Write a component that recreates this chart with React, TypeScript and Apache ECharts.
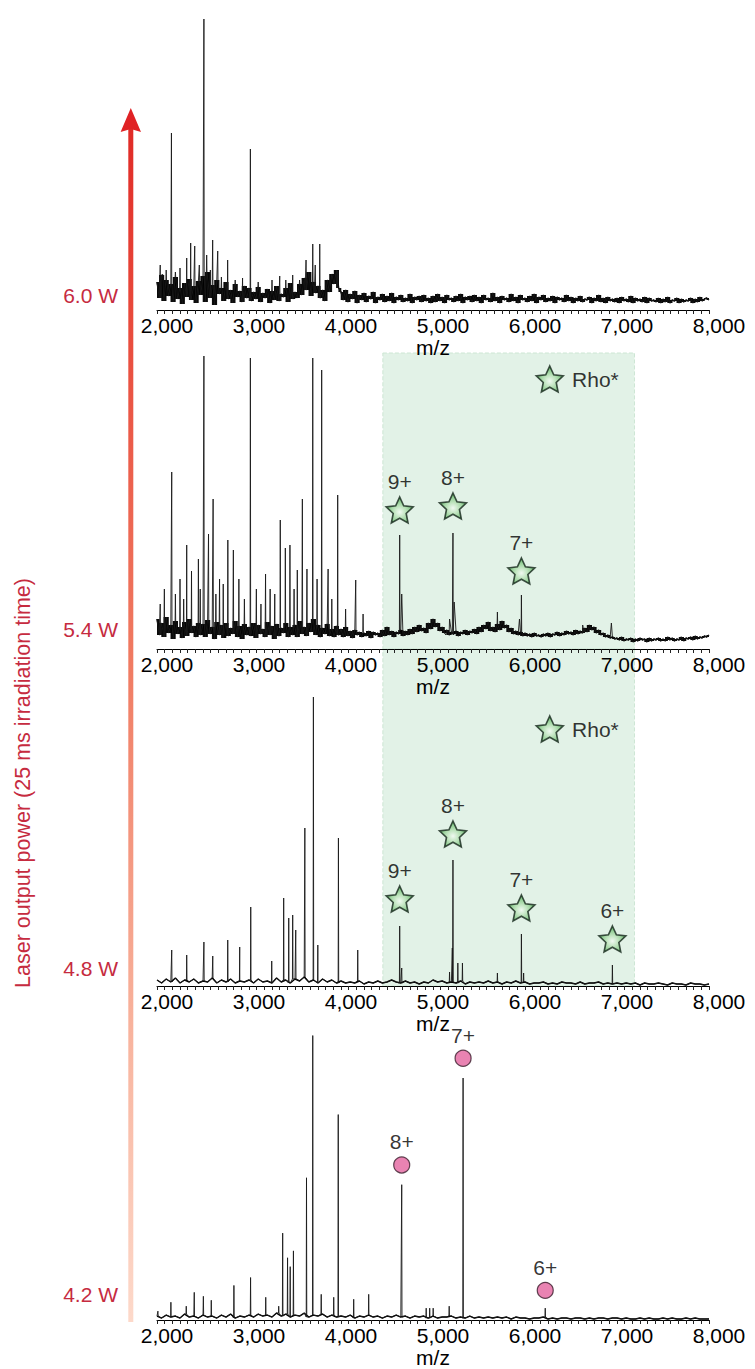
import React, { useEffect, useRef } from "react";
import * as echarts from "echarts";

// ---------- data (heights in px above each panel's axis, m/z on x) ----------
const MZ_MIN = 2000;
const MZ_MAX = 8000;
const powerLabels = ["6.0 W", "5.4 W", "4.8 W", "4.2 W"];
const axisTitle = "Laser output power (25 ms irradiation time)";
const legendText = "Rho*";

// baselines: panel 6.0 W and 5.4 W sampled every 25 m/z, 4.8 W and 4.2 W every 50 m/z
const base60 = [
  28, 12, 35, 9, 30, 14, 26, 8, 33, 11, 22, 6, 27, 13, 31, 10, 24, 7, 29, 15,
  34, 8, 38, 12, 25, 5, 30, 16, 22, 9, 28, 11, 20, 7, 26, 13, 19, 8, 24, 12,
  22, 9, 18, 11, 23, 8, 17, 12, 21, 7, 19, 10, 24, 9, 16, 13, 22, 8, 27, 11,
  18, 12, 26, 15, 32, 20, 38, 14, 28, 17, 24, 12, 20, 9, 30, 18, 36, 26, 40, 22,
  18, 10, 20, 8, 16, 11, 19, 7, 15, 10, 17, 8, 14, 11, 18, 7, 13, 10, 16, 8,
  14, 9, 17, 7, 13, 10, 15, 8, 12, 9, 16, 7, 13, 10, 14, 8, 15, 9, 12, 7,
  14, 8, 16, 9, 13, 7, 15, 10, 12, 8, 14, 9, 16, 7, 13, 10, 14, 8, 15, 9,
  13, 7, 15, 10, 12, 8, 17, 9, 13, 7, 14, 10, 12, 8, 16, 9, 13, 7, 15, 10,
  12, 8, 14, 9, 16, 7, 13, 10, 15, 8, 12, 9, 14, 7, 13, 10, 12, 8, 15, 9,
  13, 7, 12, 9, 14, 8, 11, 10, 13, 7, 12, 9, 15, 8, 12, 7, 13, 9, 11, 8,
  12, 7, 13, 9, 11, 8, 14, 7, 12, 9, 11, 8, 13, 7, 12, 9, 10, 8, 12, 7,
  11, 8, 13, 7, 10, 9, 12, 7, 11, 8, 10, 9, 12, 7, 11, 8, 13, 9, 11, 12,
  10,
];
const base54 = [
  30, 14, 26, 12, 32, 16, 24, 10, 28, 15, 22, 11, 27, 13, 30, 16, 23, 12, 26, 14,
  25, 12, 29, 15, 22, 10, 27, 14, 24, 11, 26, 13, 21, 15, 28, 12, 23, 10, 25, 14,
  22, 13, 26, 11, 24, 15, 20, 12, 27, 14, 23, 10, 25, 13, 21, 16, 26, 12, 22, 14,
  24, 12, 28, 15, 22, 13, 26, 17, 30, 14, 24, 12, 21, 15, 25, 13, 20, 12, 23, 14,
  20, 12, 22, 13, 18, 11, 19, 14, 17, 12, 16, 13, 18, 11, 17, 14, 16, 12, 19, 13,
  22, 14, 18, 12, 17, 15, 19, 13, 18, 14, 20, 15, 22, 17, 24, 18, 21, 16, 26, 20,
  30, 22, 26, 18, 22, 16, 19, 14, 17, 15, 18, 13, 17, 15, 19, 14, 18, 16, 20, 15,
  22, 17, 24, 20, 27, 18, 22, 17, 25, 19, 28, 21, 24, 17, 21, 15, 18, 14, 17, 13,
  16, 13, 15, 12, 16, 13, 14, 12, 15, 13, 16, 12, 15, 14, 17, 13, 16, 14, 18, 15,
  17, 14, 19, 15, 18, 16, 21, 17, 24, 19, 22, 16, 19, 14, 16, 12, 14, 11, 12, 10,
  11, 9, 12, 8, 10, 9, 11, 7, 10, 8, 11, 9, 10, 7, 11, 8, 10, 9, 11, 8,
  10, 8, 12, 9, 11, 8, 10, 9, 12, 8, 11, 10, 12, 9, 13, 10, 12, 11, 13, 12,
  14,
];
const base48 = [
  6, 3, 7, 4, 8, 3, 6, 4, 7, 3, 5, 4, 8, 3, 6, 4, 7, 3, 5, 4,
  6, 3, 7, 4, 5, 3, 8, 4, 6, 3, 7, 5, 9, 4, 6, 3, 7, 4, 6, 3,
  5, 3, 4, 3, 5, 2, 4, 3, 5, 3, 4, 6, 4, 3, 5, 3, 4, 2, 4, 3,
  6, 4, 5, 3, 4, 3, 5, 2, 4, 3, 4, 3, 5, 3, 4, 2, 4, 3, 5, 3,
  4, 2, 3, 3, 4, 2, 3, 2, 4, 3, 3, 2, 4, 2, 3, 3, 4, 2, 3, 2,
  3, 2, 3, 2, 3, 1, 3, 2, 2, 3, 2, 1, 3, 2, 2, 1, 3, 2, 2, 1,
  2,
];
const base42 = [
  4, 2, 5, 3, 4, 2, 6, 3, 4, 2, 5, 3, 4, 2, 5, 3, 6, 2, 4, 3,
  5, 3, 6, 4, 5, 3, 7, 4, 6, 3, 5, 4, 7, 3, 5, 4, 6, 3, 5, 3,
  4, 3, 5, 2, 4, 3, 5, 3, 4, 2, 4, 3, 5, 3, 4, 2, 4, 3, 4, 2,
  4, 2, 3, 3, 4, 2, 3, 2, 4, 2, 3, 2, 3, 2, 3, 2, 3, 1, 3, 2,
  2, 1, 2, 2, 3, 1, 2, 1, 2, 2, 1, 2, 2, 1, 2, 1, 2, 2, 1, 2,
  2, 1, 2, 1, 1, 2, 1, 2, 1, 1, 2, 1, 2, 1, 1, 2, 1, 2, 1, 1,
  1,
];

// peaks: [m/z, height, optional half-width in m/z]
const peaks60 = [
  [2035, 45], [2060, 36], [2100, 40], [2157, 177], [2200, 38], [2250, 42],
  [2323, 52], [2366, 67], [2410, 64], [2460, 45], [2510, 291], [2540, 55],
  [2580, 40], [2605, 70], [2660, 59], [2700, 33], [2768, 50], [2850, 30],
  [2930, 32], [3015, 161], [3100, 28], [3250, 30], [3334, 34], [3400, 30],
  [3475, 35], [3550, 30], [3620, 50, 10], [3693, 66], [3720, 45, 10],
  [3769, 66], [3964, 39],
];
const peaks54 = [
  [2035, 45], [2080, 60], [2160, 177], [2200, 55], [2250, 70], [2290, 50],
  [2323, 104], [2375, 78], [2450, 90], [2470, 60], [2510, 293], [2560, 115],
  [2610, 150], [2640, 55], [2680, 70], [2720, 65], [2770, 109], [2830, 99],
  [2890, 70], [2950, 50], [3015, 291], [3080, 60], [3130, 45], [3180, 75],
  [3230, 60], [3280, 55], [3340, 129], [3395, 101], [3445, 104], [3490, 60],
  [3525, 79], [3580, 150], [3630, 80], [3693, 291], [3740, 70], [3790, 279],
  [3860, 80], [3900, 50], [3964, 154], [4050, 40], [4160, 69], [4240, 35],
  [4638, 114], [4660, 55, 12], [5180, 30, 40], [5217, 116], [5230, 47, 20],
  [5700, 37], [5940, 30, 25], [5961, 54], [6627, 24, 15], [6939, 26, 25],
];
const peaks48 = [
  [2160, 36], [2323, 31], [2510, 44], [2606, 30], [2769, 46], [2899, 39],
  [3019, 79], [3247, 25], [3377, 88], [3432, 68], [3475, 71], [3508, 56],
  [3607, 158], [3700, 289], [3748, 41], [3972, 148], [4182, 36],
  [4638, 60], [4660, 18], [5180, 14], [5210, 38], [5217, 126], [5270, 23],
  [5320, 23], [5700, 13], [5961, 52], [5985, 13], [6950, 21],
];
const peaks42 = [
  [2010, 9], [2151, 18], [2318, 14], [2405, 28], [2504, 24], [2590, 20],
  [2836, 35], [3017, 43], [3182, 23], [3323, 14], [3366, 88], [3419, 63],
  [3448, 54], [3483, 70], [3625, 144], [3693, 288], [3785, 26], [3921, 23],
  [3970, 208], [4138, 21], [4301, 26], [4660, 137], [4926, 12], [4964, 12],
  [5002, 12], [5176, 14], [5327, 245], [6220, 12],
];

// annotations: [label, m/z, height of marker]
const rhoMarks54 = [["9+", 4638, 139], ["8+", 5217, 143], ["7+", 5961, 78]];
const rhoMarks48 = [["9+", 4638, 87], ["8+", 5217, 152], ["7+", 5961, 78], ["6+", 6950, 47]];
const circleMarks42 = [["8+", 4660, 157], ["7+", 5327, 265], ["6+", 6220, 30]];
const rhoLegend54 = [6269, 270];
const rhoLegend48 = [6269, 257];
const rhoRange = [4455, 7190];

// ---------- layout ----------
const FONT = '"Liberation Sans", Arial, Helvetica, sans-serif';
const FS = 21;
const GRID_LEFT = 157;
const GRID_WIDTH = 552;
const panels = [
  { top: 10, axisY: 310 },
  { top: 345, axisY: 649 },
  { top: 649, axisY: 986 },
  { top: 1000, axisY: 1324 },
];

const STAR =
  "path://M50 0 L64.11 30.58 L97.55 34.55 L72.83 57.42 L79.39 90.45 L50 74 L20.61 90.45 L27.17 57.42 L2.45 34.55 L35.89 30.58 Z";

function baselinePoints(base: number[], step: number) {
  return base.map((v, i) => [MZ_MIN + i * step, v]);
}

// span covered by each pair of neighbouring noise samples: [m/z, low, high]
function noiseSpans(base: number[], step: number) {
  const out: number[][] = [];
  for (let i = 0; i < base.length - 1; i++) {
    out.push([MZ_MIN + i * step, Math.min(base[i], base[i + 1]), Math.max(base[i], base[i + 1])]);
  }
  return out;
}

function spectrum(base: number[], step: number, peaks: number[][]) {
  const pts: number[][] = baselinePoints(base, step);
  for (const p of peaks) {
    const mz = p[0];
    const h = p[1];
    const w = p[2] ?? 3;
    const idx = Math.min(base.length - 1, Math.max(0, Math.round((mz - MZ_MIN) / step)));
    const b = base[idx];
    pts.push([mz - w, b], [mz, h], [mz + w, b]);
  }
  pts.sort((a, b) => a[0] - b[0]);
  return pts;
}

const fmt = (v: number) => String(v).replace(/\B(?=(\d{3})+(?!\d))/g, ",");

export default function App() {
  const ref = useRef<HTMLDivElement>(null);
  useEffect(() => {
    if (!ref.current) return;
    const chart = echarts.init(ref.current, null, { renderer: "svg" });

    const grids = panels.map((p) => ({
      left: GRID_LEFT,
      width: GRID_WIDTH,
      top: p.top,
      height: p.axisY - p.top,
    }));
    const xAxes = panels.map((_, i) => ({
      type: "value",
      gridIndex: i,
      min: MZ_MIN,
      max: MZ_MAX,
      interval: 1000,
      z: 10,
      axisLine: { show: true, onZero: false, lineStyle: { color: "#000", width: 1 } },
      axisTick: { show: true, length: 4, lineStyle: { color: "#222", width: 1 } },
      minorTick: { show: true, splitNumber: 12, length: 4, lineStyle: { color: "#222", width: 1 } },
      splitLine: { show: false },
      minorSplitLine: { show: false },
      axisLabel: {
        fontSize: FS,
        fontFamily: FONT,
        color: "#000",
        margin: 5,
        padding: [0, 0, 0, 20],
        formatter: fmt,
      },
      name: "m/z",
      nameLocation: "middle",
      nameGap: 27,
      nameMoveOverlap: false,
      nameTextStyle: { fontSize: FS, fontFamily: FONT, color: "#000" },
    }));
    const yAxes = panels.map((p, i) => ({
      type: "value",
      gridIndex: i,
      min: 0,
      max: p.axisY - p.top,
      show: false,
    }));

    const specs = [
      { base: base60, step: 25, peaks: peaks60, w: 1.4, env: true },
      { base: base54, step: 25, peaks: peaks54, w: 1.4, env: true },
      { base: base48, step: 50, peaks: peaks48, w: 1.4, env: false },
      { base: base42, step: 50, peaks: peaks42, w: 1.4, env: false },
    ];
    const envSeries: any[] = [];
    specs.forEach((s, i) => {
      if (!s.env) return;
      const step = s.step;
      envSeries.push({
        type: "custom",
        xAxisIndex: i,
        yAxisIndex: i,
        silent: true,
        z: 2,
        clip: true,
        encode: { x: 0, y: [1, 2] },
        data: noiseSpans(s.base, step),
        renderItem: (params: any, api: any) => {
          const x = api.value(0);
          const lo = api.value(1);
          const hi = api.value(2);
          const a = api.coord([x, hi]);
          const b = api.coord([x + step, lo]);
          return {
            type: "rect",
            shape: {
              x: a[0] - 0.3,
              y: a[1],
              width: b[0] - a[0] + 0.6,
              height: Math.max(1, b[1] - a[1]),
            },
            style: { fill: "#0b0b0b" },
          };
        },
      });
    });
    const baseSeries = specs.map((s, i) => ({
      type: "line",
      xAxisIndex: i,
      yAxisIndex: i,
      data: baselinePoints(s.base, s.step),
      showSymbol: false,
      symbol: "none",
      silent: true,
      z: 3,
      lineStyle: { color: "#000", width: s.w },
    }));
    const lineSeries = specs.map((s, i) => ({
      type: "line",
      xAxisIndex: i,
      yAxisIndex: i,
      data: spectrum(s.base, s.step, s.peaks),
      showSymbol: false,
      symbol: "none",
      silent: true,
      z: 4,
      lineStyle: { color: "#1a1a1a", width: 0.9 },
    }));

    const starStyle = {
      color: {
        type: "radial",
        x: 0.5,
        y: 0.58,
        r: 0.55,
        colorStops: [
          { offset: 0, color: "#f4fbf4" },
          { offset: 0.4, color: "#b5e0b3" },
          { offset: 1, color: "#4fae54" },
        ],
      },
      borderColor: "#14261a",
      borderWidth: 1.6,
    };
    const markLabel = {
      show: true,
      position: "top",
      distance: 4,
      formatter: "{b}",
      fontSize: FS,
      fontFamily: FONT,
      color: "#000",
    };

    const green = {
      color: "#e2f2e7",
      borderColor: "#cde6d4",
      borderWidth: 1,
      borderType: "dashed",
    };
    const areaSeries = [1, 2].map((gi) => ({
      type: "line",
      xAxisIndex: gi,
      yAxisIndex: gi,
      data: [[MZ_MIN, -100]],
      showSymbol: false,
      symbol: "none",
      silent: true,
      z: 1,
      lineStyle: { opacity: 0 },
      markArea: {
        silent: true,
        itemStyle: green,
        data: [
          [
            { coord: [rhoRange[0], gi === 1 ? 296 : panels[2].axisY - panels[2].top] },
            { coord: [rhoRange[1], 0] },
          ],
        ],
      },
    }));

    const starSeries = [
      { gi: 1, marks: rhoMarks54 },
      { gi: 2, marks: rhoMarks48 },
    ].map(({ gi, marks }) => ({
      type: "scatter",
      xAxisIndex: gi,
      yAxisIndex: gi,
      symbol: STAR,
      symbolSize: [27, 26],
      z: 5,
      silent: true,
      itemStyle: starStyle,
      label: markLabel,
      data: marks.map((m) => ({ name: m[0], value: [m[1], m[2]] })),
    }));
    const legendSeries = [
      { gi: 1, pos: rhoLegend54 },
      { gi: 2, pos: rhoLegend48 },
    ].map(({ gi, pos }) => ({
      type: "scatter",
      xAxisIndex: gi,
      yAxisIndex: gi,
      symbol: STAR,
      symbolSize: [27, 26],
      z: 5,
      silent: true,
      itemStyle: starStyle,
      label: { ...markLabel, position: "right", distance: 8 },
      data: [{ name: legendText, value: pos }],
    }));
    const circleSeries = {
      type: "scatter",
      xAxisIndex: 3,
      yAxisIndex: 3,
      symbol: "circle",
      symbolSize: 16,
      z: 5,
      silent: true,
      itemStyle: { color: "#e3649f", borderColor: "#3a1b2b", borderWidth: 1.2 },
      label: { ...markLabel, distance: 4 },
      data: circleMarks42.map((m) => ({ name: m[0], value: [m[1], m[2]] })),
    };

    const crimson = "#c62b3f";
    const graphic = [
      {
        type: "rect",
        shape: { x: 128.3, y: 126, width: 5, height: 1196 },
        style: {
          fill: {
            type: "linear",
            x: 0,
            y: 0,
            x2: 0,
            y2: 1,
            colorStops: [
              { offset: 0, color: "#e02a26" },
              { offset: 0.15, color: "#e8483a" },
              { offset: 0.45, color: "#f07b62" },
              { offset: 0.75, color: "#f8b29c" },
              { offset: 1, color: "#fdd9ca" },
            ],
          },
        },
        silent: true,
      },
      {
        type: "polygon",
        shape: { points: [[130.8, 108], [141, 132], [130.8, 129], [120.6, 132]] },
        style: { fill: "#e02225" },
        silent: true,
      },
      ...powerLabels.map((t, i) => ({
        type: "text",
        x: 118,
        y: [295, 629, 968, 1294][i],
        silent: true,
        style: {
          text: t,
          fill: crimson,
          fontSize: FS,
          fontFamily: FONT,
          align: "right",
          verticalAlign: "middle",
        },
      })),
      {
        type: "text",
        x: 23,
        y: 783,
        rotation: Math.PI / 2,
        silent: true,
        style: {
          text: axisTitle,
          fill: crimson,
          fontSize: 21.5,
          fontFamily: FONT,
          align: "center",
          verticalAlign: "middle",
        },
      },
    ];

    chart.setOption({
      animation: false,
      textStyle: { fontFamily: FONT },
      grid: grids,
      xAxis: xAxes,
      yAxis: yAxes,
      series: [
        ...areaSeries,
        ...envSeries,
        ...baseSeries,
        ...lineSeries,
        ...starSeries,
        ...legendSeries,
        circleSeries,
      ],
      graphic,
    });
    return () => chart.dispose();
  }, []);
  return (
    <div
      ref={ref}
      style={{ position: "absolute", left: 0, top: 0, width: 755, height: 1369, background: "#fff" }}
    />
  );
}
